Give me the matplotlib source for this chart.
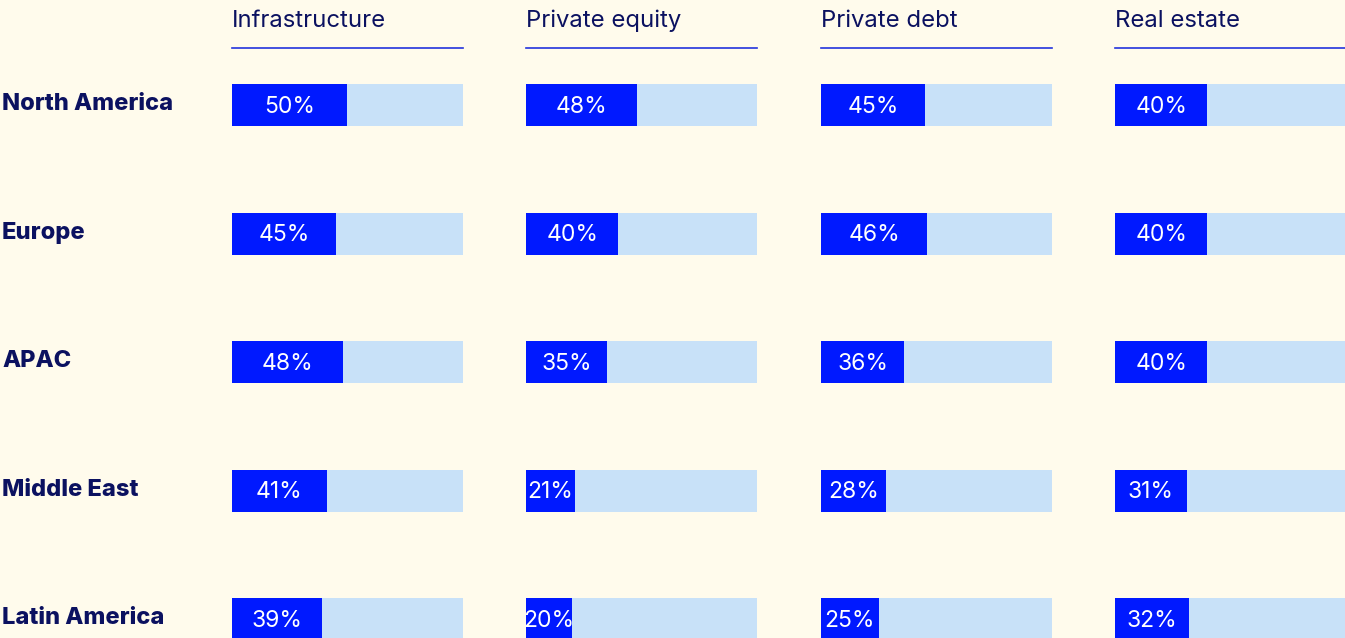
import numpy as np
import matplotlib as mpl
import matplotlib.pyplot as plt
from matplotlib.transforms import blended_transform_factory

regions = ["North America", "Europe", "APAC", "Middle East", "Latin America"]
assets = ["Infrastructure", "Private equity", "Private debt", "Real estate"]

infrastructure = [50, 45, 48, 41, 39]
private_equity = [48, 40, 35, 21, 20]
private_debt = [45, 46, 36, 28, 25]
real_estate = [40, 40, 40, 31, 32]

values = [infrastructure, private_equity, private_debt, real_estate]

bg = "#fffbec"
navy = "#0b1160"
dark = "#0019ff"
light = "#c8e1f8"
line_blue = "#2233dd"

mpl.rcParams['font.family'] = ['Inter', 'DejaVu Sans']

W, H = 1345, 638
fig = plt.figure(figsize=(W / 100, H / 100), dpi=100, facecolor=bg)

col_left = [232, 526, 821, 1115]
col_w = 231
top_px = 48
row_step = 128.5
first_row = 105
bar_h = 42 / row_step

y_top = -(first_row - top_px) / row_step
y_bot = (H - first_row) / row_step

ypos = np.arange(len(regions))

for k, (name, vals) in enumerate(zip(assets, values)):
    ax = fig.add_axes([col_left[k] / W, 0, col_w / W, (H - top_px) / H])
    ax.set_facecolor("none")
    ax.barh(ypos, [100] * len(regions), height=bar_h, color=light, linewidth=0)
    ax.barh(ypos, vals, height=bar_h, color=dark, linewidth=0)
    for y, v in zip(ypos, vals):
        ax.text(v / 2, y + 0.015, f"{v}%", ha="center", va="center",
                color="white", fontsize=16.5)
    ax.set_xlim(0, 100)
    ax.set_ylim(y_bot, y_top)
    ax.set_xticks([])
    ax.set_yticks([])
    for s in ["left", "right", "bottom"]:
        ax.spines[s].set_visible(False)
    ax.spines["top"].set_color(line_blue)
    ax.spines["top"].set_linewidth(1.2)
    ax.annotate(name, xy=(0, 1), xycoords="axes fraction",
                xytext=(0, 15), textcoords="offset points",
                ha="left", va="baseline", color=navy, fontsize=17.2)

    if k == 0:
        trans = blended_transform_factory(fig.transFigure, ax.transData)
        for y, r in zip(ypos, regions):
            ax.text(2 / W, y - 0.005, r, transform=trans, ha="left", va="center",
                    color=navy, fontsize=17, fontweight=800)

fig.savefig("out.png", dpi=100, facecolor=bg)
